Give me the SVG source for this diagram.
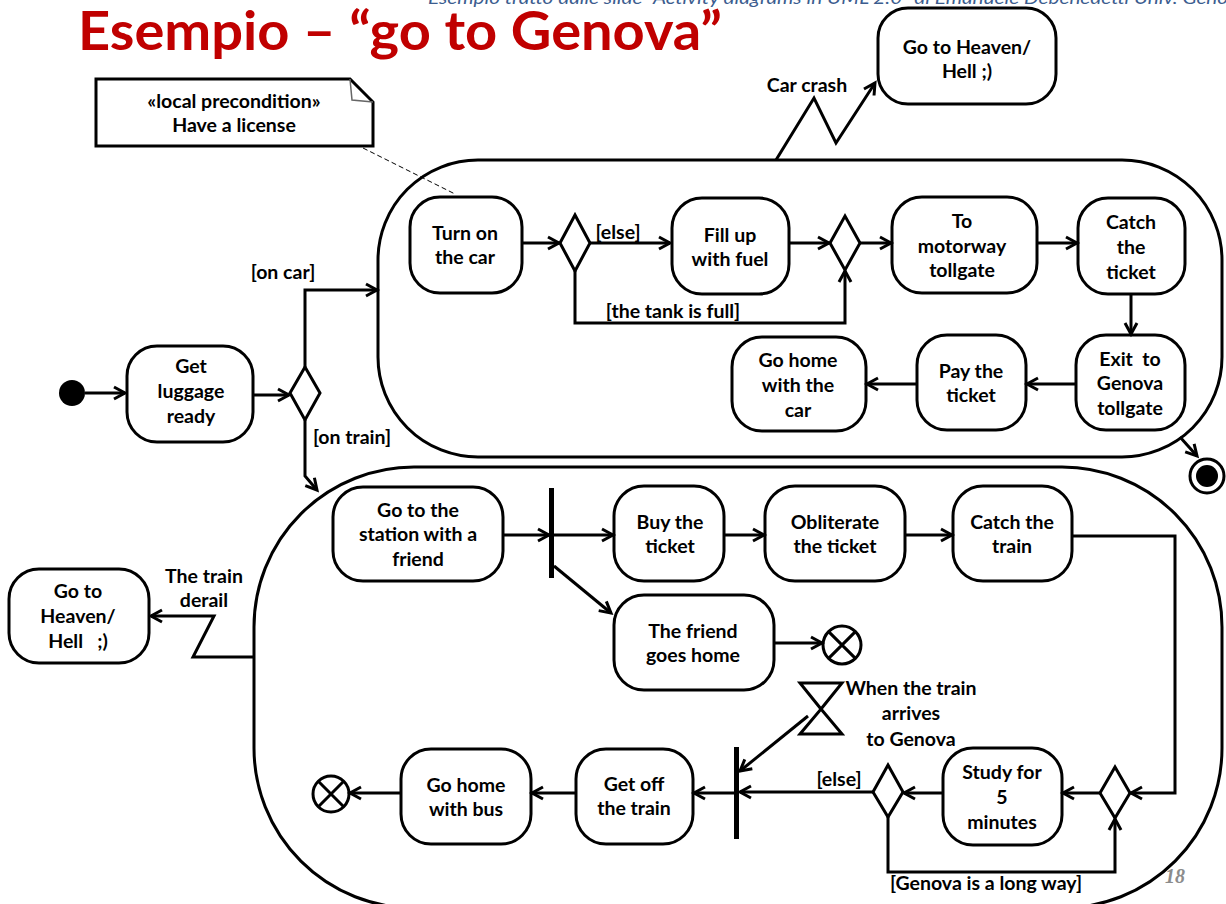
<svg xmlns="http://www.w3.org/2000/svg" width="1226" height="904" viewBox="0 0 1226 904">
  <defs>
    <marker id="arr" markerUnits="userSpaceOnUse" markerWidth="16" markerHeight="16" refX="11" refY="6" orient="auto" overflow="visible">
      <path d="M0,0 L11,6 L0,12" fill="none" stroke="#000" stroke-width="3"/>
    </marker>
    <style>
      .box { fill: #fff; stroke: #000; stroke-width: 3; }
      .frame { fill: none; stroke: #000; stroke-width: 3; }
      .t { font-family: Lato, "Open Sans", "Liberation Sans", sans-serif; font-weight: 700; font-size: 19.5px; text-anchor: middle; fill: #000; }
      .pre { white-space: pre; }
      .c { fill: none; stroke: #000; stroke-width: 3; marker-end: url(#arr); }
      .dash { fill: none; stroke: #000; stroke-width: 1; stroke-dasharray: 5 3; }
      .bar { fill: #000; }
    </style>
  </defs>
  <rect width="1226" height="904" fill="#fff"/>

  <!-- slide header -->
  <g id="header">
    <text x="428" y="4" font-family="Lato, 'Liberation Sans', sans-serif" font-style="italic" font-size="17" fill="#3c5d8f" textLength="820" lengthAdjust="spacingAndGlyphs">Esempio tratto dalle slide “Activity diagrams in UML 2.0” di Emanuele Debenedetti  Univ. Genova</text>
    <text x="78" y="50" font-family="Lato, 'Open Sans', 'Liberation Sans', sans-serif" font-weight="700" font-size="54" fill="#c00000" textLength="644" lengthAdjust="spacingAndGlyphs">Esempio – “go to Genova”</text>
  </g>

  <!-- interruptible regions -->
  <g id="car-region">
    <rect class="frame" x="378" y="160" width="844" height="297" rx="100"/>
  </g>
  <g id="train-region">
    <rect class="frame" x="254" y="467" width="968" height="441" rx="160"/>
  </g>

  <!-- note -->
  <g id="note">
    <path d="M96,79 H350 L373,102 V146 H96 Z" fill="#fff" stroke="#000" stroke-width="3"/>
    <path d="M350,79 L352,100 L373,102" fill="none" stroke="#666" stroke-width="1.5"/>
    <text class="t" x="234" y="108">«local precondition»</text>
    <text class="t" x="234" y="132">Have a license</text>
  </g>

  <!-- start -->
  <g id="initial">
    <circle cx="72" cy="393" r="13" fill="#000"/>
  </g>

  <g id="get-luggage">
    <rect class="box" x="127" y="346" width="126" height="96" rx="30"/>
    <text class="t" x="191" y="373">Get</text>
    <text class="t" x="191" y="398">luggage</text>
    <text class="t" x="191" y="423">ready</text>
  </g>

  <g id="decision-mode">
    <polygon class="box" points="290,393 305,367 320,393 305,420"/>
  </g>

  <!-- car branch -->
  <g id="turn-on">
    <rect class="box" x="410" y="197" width="112" height="96" rx="30"/>
    <text class="t" x="465" y="240">Turn on</text>
    <text class="t" x="465" y="264">the car</text>
  </g>
  <g id="decision-tank">
    <polygon class="box" points="560,243 575,215 590,243 575,271"/>
  </g>
  <g id="fill-up">
    <rect class="box" x="672" y="198" width="117" height="96" rx="30"/>
    <text class="t" x="730" y="242">Fill up</text>
    <text class="t" x="730" y="266">with fuel</text>
  </g>
  <g id="merge-tank">
    <polygon class="box" points="830,243 845,216 860,243 845,270"/>
  </g>
  <g id="to-motorway">
    <rect class="box" x="892" y="197" width="145" height="96" rx="30"/>
    <text class="t" x="962" y="228">To</text>
    <text class="t" x="962" y="253">motorway</text>
    <text class="t" x="962" y="277">tollgate</text>
  </g>
  <g id="catch-ticket">
    <rect class="box" x="1078" y="198" width="107" height="96" rx="30"/>
    <text class="t" x="1131" y="229">Catch</text>
    <text class="t" x="1131" y="254">the</text>
    <text class="t" x="1131" y="279">ticket</text>
  </g>
  <g id="exit-genova">
    <rect class="box" x="1076" y="335" width="109" height="95" rx="30"/>
    <text class="t pre" x="1130" y="366">Exit  to</text>
    <text class="t" x="1130" y="390">Genova</text>
    <text class="t" x="1130" y="415">tollgate</text>
  </g>
  <g id="pay-ticket">
    <rect class="box" x="917" y="335" width="109" height="95" rx="30"/>
    <text class="t" x="971" y="378">Pay the</text>
    <text class="t" x="971" y="402">ticket</text>
  </g>
  <g id="home-car">
    <rect class="box" x="732" y="337" width="134" height="94" rx="30"/>
    <text class="t" x="798" y="367">Go home</text>
    <text class="t" x="798" y="392">with the</text>
    <text class="t" x="798" y="417">car</text>
  </g>
  <g id="heaven-car">
    <rect class="box" x="878" y="8" width="178" height="96" rx="30"/>
    <text class="t" x="967" y="54">Go to Heaven/</text>
    <text class="t" x="967" y="78">Hell ;)</text>
  </g>
  <g id="final">
    <circle cx="1207" cy="476" r="17" fill="#fff" stroke="#000" stroke-width="3"/>
    <circle cx="1207" cy="476" r="11" fill="#000"/>
  </g>

  <!-- train branch -->
  <g id="to-station">
    <rect class="box" x="333" y="487" width="170" height="94" rx="30"/>
    <text class="t" x="418" y="517">Go to the</text>
    <text class="t" x="418" y="541">station with a</text>
    <text class="t" x="418" y="566">friend</text>
  </g>
  <g id="fork">
    <rect class="bar" x="549" y="488" width="5" height="90"/>
  </g>
  <g id="buy-ticket">
    <rect class="box" x="614" y="486" width="110" height="95" rx="30"/>
    <text class="t" x="670" y="529">Buy the</text>
    <text class="t" x="670" y="553">ticket</text>
  </g>
  <g id="obliterate">
    <rect class="box" x="765" y="486" width="140" height="95" rx="30"/>
    <text class="t" x="835" y="529">Obliterate</text>
    <text class="t" x="835" y="553">the ticket</text>
  </g>
  <g id="catch-train">
    <rect class="box" x="953" y="486" width="119" height="95" rx="30"/>
    <text class="t" x="1012" y="529">Catch the</text>
    <text class="t" x="1012" y="553">train</text>
  </g>
  <g id="friend-home">
    <rect class="box" x="614" y="595" width="160" height="95" rx="30"/>
    <text class="t" x="693" y="638">The friend</text>
    <text class="t" x="693" y="662">goes home</text>
  </g>
  <g id="flow-final-friend">
    <circle cx="842" cy="645" r="19" fill="#fff" stroke="#000" stroke-width="3"/>
    <path d="M828.6,631.6 L855.4,658.4 M855.4,631.6 L828.6,658.4" stroke="#000" stroke-width="3"/>
  </g>
  <g id="decision-study">
    <polygon class="box" points="1100,793 1115,767 1130,793 1115,818"/>
  </g>
  <g id="study">
    <rect class="box" x="943" y="748" width="119" height="97" rx="30"/>
    <text class="t" x="1002" y="779">Study for</text>
    <text class="t" x="1002" y="804">5</text>
    <text class="t" x="1002" y="829">minutes</text>
  </g>
  <g id="decision-long">
    <polygon class="box" points="873,792 888,765 903,792 888,817"/>
  </g>
  <g id="arrival-event">
    <path d="M800,683 H842 L821,709 Z M821,709 L842,734 H800 Z" fill="#fff" stroke="#000" stroke-width="3" stroke-linejoin="miter"/>
    <text class="t" x="911" y="695">When the train</text>
    <text class="t" x="911" y="720">arrives</text>
    <text class="t" x="911" y="746">to Genova</text>
  </g>
  <g id="join">
    <rect class="bar" x="734" y="747" width="5" height="92"/>
  </g>
  <g id="get-off">
    <rect class="box" x="576" y="749" width="117" height="95" rx="30"/>
    <text class="t" x="634" y="791">Get off</text>
    <text class="t" x="634" y="815">the train</text>
  </g>
  <g id="home-bus">
    <rect class="box" x="401" y="749" width="130" height="95" rx="30"/>
    <text class="t" x="466" y="792">Go home</text>
    <text class="t" x="466" y="816">with bus</text>
  </g>
  <g id="flow-final-bus">
    <circle cx="331" cy="794" r="18" fill="#fff" stroke="#000" stroke-width="3"/>
    <path d="M318.3,781.3 L343.7,806.7 M343.7,781.3 L318.3,806.7" stroke="#000" stroke-width="3"/>
  </g>
  <g id="heaven-train">
    <rect class="box" x="9" y="569" width="140" height="94" rx="30"/>
    <text class="t" x="78" y="598">Go to</text>
    <text class="t" x="78" y="623">Heaven/</text>
    <text class="t pre" x="78" y="648">Hell   ;)</text>
  </g>

  <!-- connectors -->
  <g id="connectors">
    <path class="c" d="M85,393 H125"/>
    <path class="c" d="M253,395 H289"/>
    <path class="c" d="M305,367 V290 H377"/>
    <path class="c" d="M305,420 V476 L317,490"/>
    <path class="c" d="M522,243 H559"/>
    <path class="c" d="M590,243 H670"/>
    <path class="c" d="M789,243 H829"/>
    <path class="c" d="M575,271 V323 H845 V271"/>
    <path class="c" d="M860,243 H891"/>
    <path class="c" d="M1037,243 H1077"/>
    <path class="c" d="M1131,294 V334"/>
    <path class="c" d="M1076,384 H1027"/>
    <path class="c" d="M917,384 H867"/>
    <path class="c" d="M1180,437 L1197,456"/>
    <path class="c" d="M776,160 L814,98 L836,143 L875,83"/>
    <path class="dash" d="M363,148 L455,194"/>
    <path class="c" d="M503,535 H549"/>
    <path class="c" d="M554,535 H613"/>
    <path class="c" d="M554,566 L611,613"/>
    <path class="c" d="M724,535 H764"/>
    <path class="c" d="M905,535 H952"/>
    <path class="c" d="M774,643 H822"/>
    <path class="c" d="M1072,536 H1175 V793 H1131"/>
    <path class="c" d="M1100,793 H1063"/>
    <path class="c" d="M943,793 H904"/>
    <path class="c" d="M888,817 V872 H1115 V819"/>
    <path class="c" d="M873,792 H740"/>
    <path class="c" d="M808,716 L740,771"/>
    <path class="c" d="M734,793 H694"/>
    <path class="c" d="M576,793 H532"/>
    <path class="c" d="M401,793 H350"/>
    <path class="c" d="M254,657 H193 L214,616 H151"/>
  </g>

  <!-- guard and event labels -->
  <g id="labels">
    <text class="t" x="807" y="92">Car crash</text>
    <text class="t" x="618" y="239">[else]</text>
    <text class="t" x="673" y="318">[the tank is full]</text>
    <text class="t" x="283" y="279">[on car]</text>
    <text class="t" x="352" y="444">[on train]</text>
    <text class="t" x="204" y="583">The train</text>
    <text class="t" x="204" y="607">derail</text>
    <text class="t" x="839" y="786">[else]</text>
    <text class="t" x="986" y="890">[Genova is a long way]</text>
    <text x="1175" y="883" font-family="'Liberation Serif', serif" font-style="italic" font-weight="700" font-size="20" fill="#8c8c8c" text-anchor="middle">18</text>
  </g>
</svg>
